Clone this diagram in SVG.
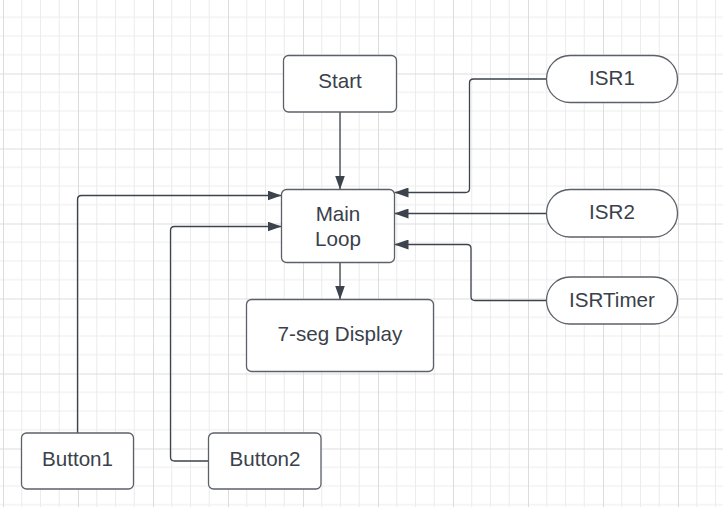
<svg xmlns="http://www.w3.org/2000/svg" width="723" height="507" viewBox="0 0 723 507">
<style>
.node{fill:#ffffff;stroke:#5c6169;stroke-width:1.3}
.lbl{font-family:"Liberation Sans",Arial,sans-serif;font-size:20.6px;fill:#3a414b;text-anchor:middle}
.conn{fill:none;stroke:#3c434c;stroke-width:1.3}
</style>
<defs>
<pattern id="grid" patternUnits="userSpaceOnUse" x="3" y="-1.5" width="75" height="75">
<rect width="75" height="75" fill="#ffffff"/>
<path d="M18.75 0V75M37.5 0V75M56.25 0V75M0 18.75H75M0 37.5H75M0 56.25H75" stroke="#ececec" stroke-width="1"/>
<path d="M0 0V75M0 0H75" stroke="#dcdcdc" stroke-width="2"/>
</pattern>
<marker id="arr" viewBox="0 0 14 10" refX="14" refY="5" markerWidth="14" markerHeight="10" markerUnits="userSpaceOnUse" orient="auto">
<path d="M0 0L14 5L0 10Z" fill="#3c434c"/>
</marker>
</defs>
<rect width="723" height="507" fill="url(#grid)"/>
<g id="connectors">
<path class="conn" marker-end="url(#arr)" d="M340 112V189.5"/>
<path class="conn" marker-end="url(#arr)" d="M340 262.5V299.5"/>
<path class="conn" marker-end="url(#arr)" d="M546.5 79H473.5Q469.5 79 469.5 83V188.5Q469.5 192.5 465.5 192.5H394.5"/>
<path class="conn" marker-end="url(#arr)" d="M546.5 213.5H394.5"/>
<path class="conn" marker-end="url(#arr)" d="M546.5 300.5H475Q471 300.5 471 296.5V248.5Q471 244.5 467 244.5H394.5"/>
<path class="conn" marker-end="url(#arr)" d="M77.5 433V199.5Q77.5 195.5 81.5 195.5H281.5"/>
<path class="conn" marker-end="url(#arr)" d="M208.5 461H174.5Q170.5 461 170.5 457V230.5Q170.5 226.5 174.5 226.5H281.5"/>
</g>
<g id="start"><rect class="node" x="283.5" y="55.5" width="113" height="56.5" rx="5"/><text class="lbl" x="340" y="88">Start</text></g>
<g id="mainloop"><rect class="node" x="281.5" y="189.5" width="113" height="73" rx="5"/><text class="lbl" x="338" y="221">Main</text><text class="lbl" x="338" y="246">Loop</text></g>
<g id="display"><rect class="node" x="246.5" y="299.5" width="187" height="72" rx="5"/><text class="lbl" x="340" y="340.5">7-seg Display</text></g>
<g id="isr1"><rect class="node" x="546.5" y="55.5" width="131" height="47" rx="23.5"/><text class="lbl" x="612" y="85">ISR1</text></g>
<g id="isr2"><rect class="node" x="546.5" y="189.5" width="131" height="47.5" rx="23.5"/><text class="lbl" x="612" y="219">ISR2</text></g>
<g id="isrtimer"><rect class="node" x="546.5" y="277" width="131" height="47" rx="23.5"/><text class="lbl" x="612" y="306.5">ISRTimer</text></g>
<g id="button1"><rect class="node" x="21.5" y="433" width="112" height="56" rx="5"/><text class="lbl" x="77.5" y="465.5">Button1</text></g>
<g id="button2"><rect class="node" x="208.5" y="433" width="112.5" height="56" rx="5"/><text class="lbl" x="265" y="465.5">Button2</text></g>
</svg>
